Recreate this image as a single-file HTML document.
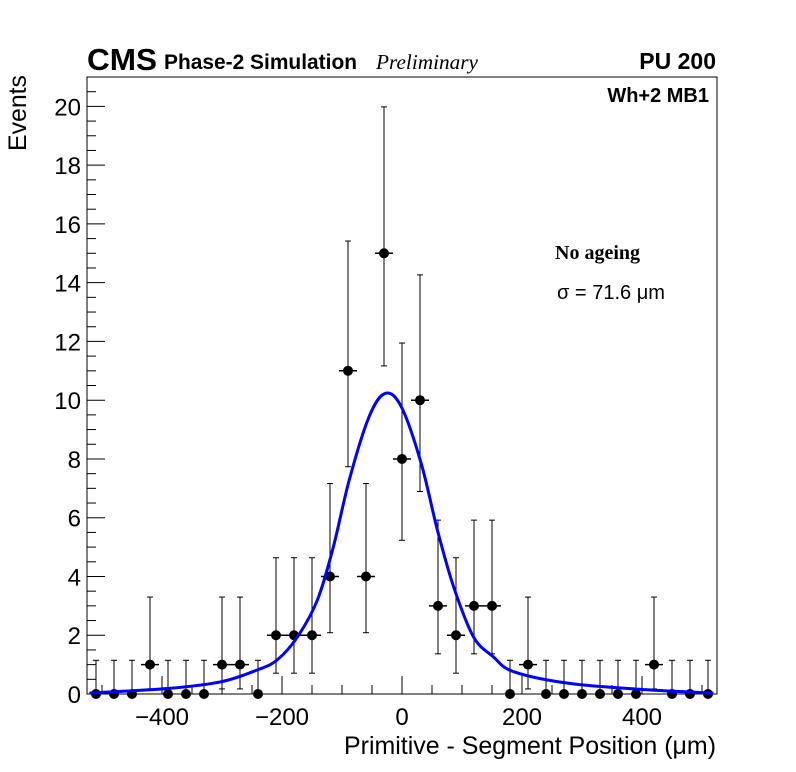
<!DOCTYPE html>
<html><head><meta charset="utf-8"><style>
html,body{margin:0;padding:0;background:#fff;}
svg{display:block;font-family:"Liberation Sans",sans-serif;}
</style></head><body>
<svg id="chart" width="796" height="772" viewBox="0 0 796 772" xmlns="http://www.w3.org/2000/svg">
<rect width="796" height="772" fill="#fff"/>
<g id="axes"></g>
<g id="marks"></g>
<text x="87" y="70" font-size="31" font-weight="bold" textLength="70" lengthAdjust="spacingAndGlyphs">CMS</text>
<text x="164" y="69" font-size="21" font-weight="bold" textLength="193" lengthAdjust="spacingAndGlyphs">Phase-2 Simulation</text>
<text x="376" y="69" font-size="21" font-style="italic" font-family="Liberation Serif, serif" textLength="102" lengthAdjust="spacingAndGlyphs">Preliminary</text>
<text x="716" y="69" font-size="23" font-weight="bold" text-anchor="end">PU 200</text>
<text x="709" y="102" font-size="20" font-weight="bold" text-anchor="end">Wh+2 MB1</text>
<text x="555" y="259" font-size="20" font-weight="bold" font-family="Liberation Serif, serif" textLength="85" lengthAdjust="spacingAndGlyphs">No ageing</text>
<text x="557" y="299" font-size="20" textLength="108" lengthAdjust="spacingAndGlyphs">σ = 71.6 μm</text>
<text x="716" y="754" font-size="25" text-anchor="end" textLength="372" lengthAdjust="spacingAndGlyphs">Primitive - Segment Position (μm)</text>
<text transform="translate(26,151) rotate(-90)" font-size="25" textLength="76" lengthAdjust="spacingAndGlyphs">Events</text>
</svg>
<script>
const binCenters=[-510,-480,-450,-420,-390,-360,-330,-300,-270,-240,-210,-180,-150,-120,-90,-60,-30,0,30,60,90,120,150,180,210,240,270,300,330,360,390,420,450,480,510];
const counts=[0,0,0,1,0,0,0,1,1,0,2,2,2,4,11,4,15,8,10,3,2,3,3,0,1,0,0,0,0,0,0,1,0,0,0];
const errLowTable={0:0,1:0.827,2:1.292,3:1.633,4:1.914,8:2.768,10:3.108,11:3.265,15:3.833};
const errHighTable={0:1.148,1:2.3,2:2.638,3:2.918,4:3.163,8:3.945,10:4.266,11:4.416,15:4.983};
const fitX=[-521,-388,-301,-241,-208,-174,-141,-114.5,-88,-55,-28,-1,32,59,86,119,152,186,279,412,519];
const fitY=[0.03,0.19,0.42,0.82,1.16,1.95,3.2,5.0,7.28,9.43,10.23,9.77,7.85,5.58,3.65,1.95,1.27,0.76,0.36,0.14,0.03];
const xTicks=[-400,-200,0,200,400];
const yTicks=[0,2,4,6,8,10,12,14,16,18,20];

const L=87,R=717,T=77,B=694,XMIN=-525,XMAX=525,YMIN=0,YMAX=21;
const sx=v=>L+(v-XMIN)/(XMAX-XMIN)*(R-L);
const sy=v=>B-(v-YMIN)/(YMAX-YMIN)*(B-T);
const NS="http://www.w3.org/2000/svg";
function mk(tag,attrs,parent){const e=document.createElementNS(NS,tag);for(const k in attrs)e.setAttribute(k,attrs[k]);parent.appendChild(e);return e;}
const axes=document.getElementById('axes'),marks=document.getElementById('marks');
const frame=mk('rect',{x:L,y:T,width:R-L,height:B-T,fill:'none',stroke:'#000','stroke-width':1},axes);


for(let v=-500;v<=500;v+=50){
  const major=v%200===0;
  const t=mk('line',{x1:sx(v),x2:sx(v),y1:B,y2:B-(major?18:9),stroke:'#000'},axes);
  
  
}
xTicks.forEach(v=>{
  const t=mk('text',{x:sx(v),y:B+31,'font-size':24,'text-anchor':'middle'},axes);
  t.textContent=v<0?'\u2212'+Math.abs(v):String(v);
  
  
});
for(let v=0;v<=21;v+=0.5){
  const major=Math.abs(v%2)<1e-9;
  const t=mk('line',{x1:L,x2:L+(major?18:9),y1:sy(v),y2:sy(v),stroke:'#000'},axes);
  
  
}
yTicks.forEach(v=>{
  const t=mk('text',{x:L-6,y:sy(v)+9,'font-size':24,'text-anchor':'end'},axes);
  t.textContent=String(v);
  
  
});
const halfBin=15;
binCenters.forEach((c,i)=>{
  const n=counts[i];
  const g=mk('g',{},marks);
  
  
  const lo=errLowTable[n]!==undefined?errLowTable[n]:Math.sqrt(n);
  const hi=errHighTable[n]!==undefined?errHighTable[n]:Math.sqrt(n);
  mk('line',{x1:sx(c),x2:sx(c),y1:sy(n+hi),y2:sy(Math.max(0,n-lo)),stroke:'#000','stroke-width':1},g);
  mk('line',{x1:sx(c)-3,x2:sx(c)+3,y1:sy(n+hi),y2:sy(n+hi),stroke:'#000'},g);
  if(n>0)mk('line',{x1:sx(c)-3,x2:sx(c)+3,y1:sy(n-lo),y2:sy(n-lo),stroke:'#000'},g);
  if(n>0)mk('line',{x1:sx(c-halfBin),x2:sx(c+halfBin),y1:sy(n),y2:sy(n),stroke:'#000','stroke-width':1.5},g);
  mk('circle',{cx:sx(c),cy:sy(n),r:5,fill:'#000'},g);
});
// smooth fit curve (Catmull-Rom through read points)
const P=fitX.map((x,i)=>[sx(x),sy(fitY[i])]);
let d='M'+P[0][0].toFixed(1)+','+P[0][1].toFixed(1);
for(let i=0;i<P.length-1;i++){
  const p0=P[Math.max(0,i-1)],p1=P[i],p2=P[i+1],p3=P[Math.min(P.length-1,i+2)];
  const c1=[p1[0]+(p2[0]-p0[0])/6,p1[1]+(p2[1]-p0[1])/6];
  const c2=[p2[0]-(p3[0]-p1[0])/6,p2[1]-(p3[1]-p1[1])/6];
  d+='C'+c1[0].toFixed(1)+','+c1[1].toFixed(1)+' '+c2[0].toFixed(1)+','+c2[1].toFixed(1)+' '+p2[0].toFixed(1)+','+p2[1].toFixed(1);
}
const fit=mk('path',{d:d,fill:'none',stroke:'#0000ff','stroke-width':3,'stroke-linejoin':'round'},marks);


</script>
</body></html>
